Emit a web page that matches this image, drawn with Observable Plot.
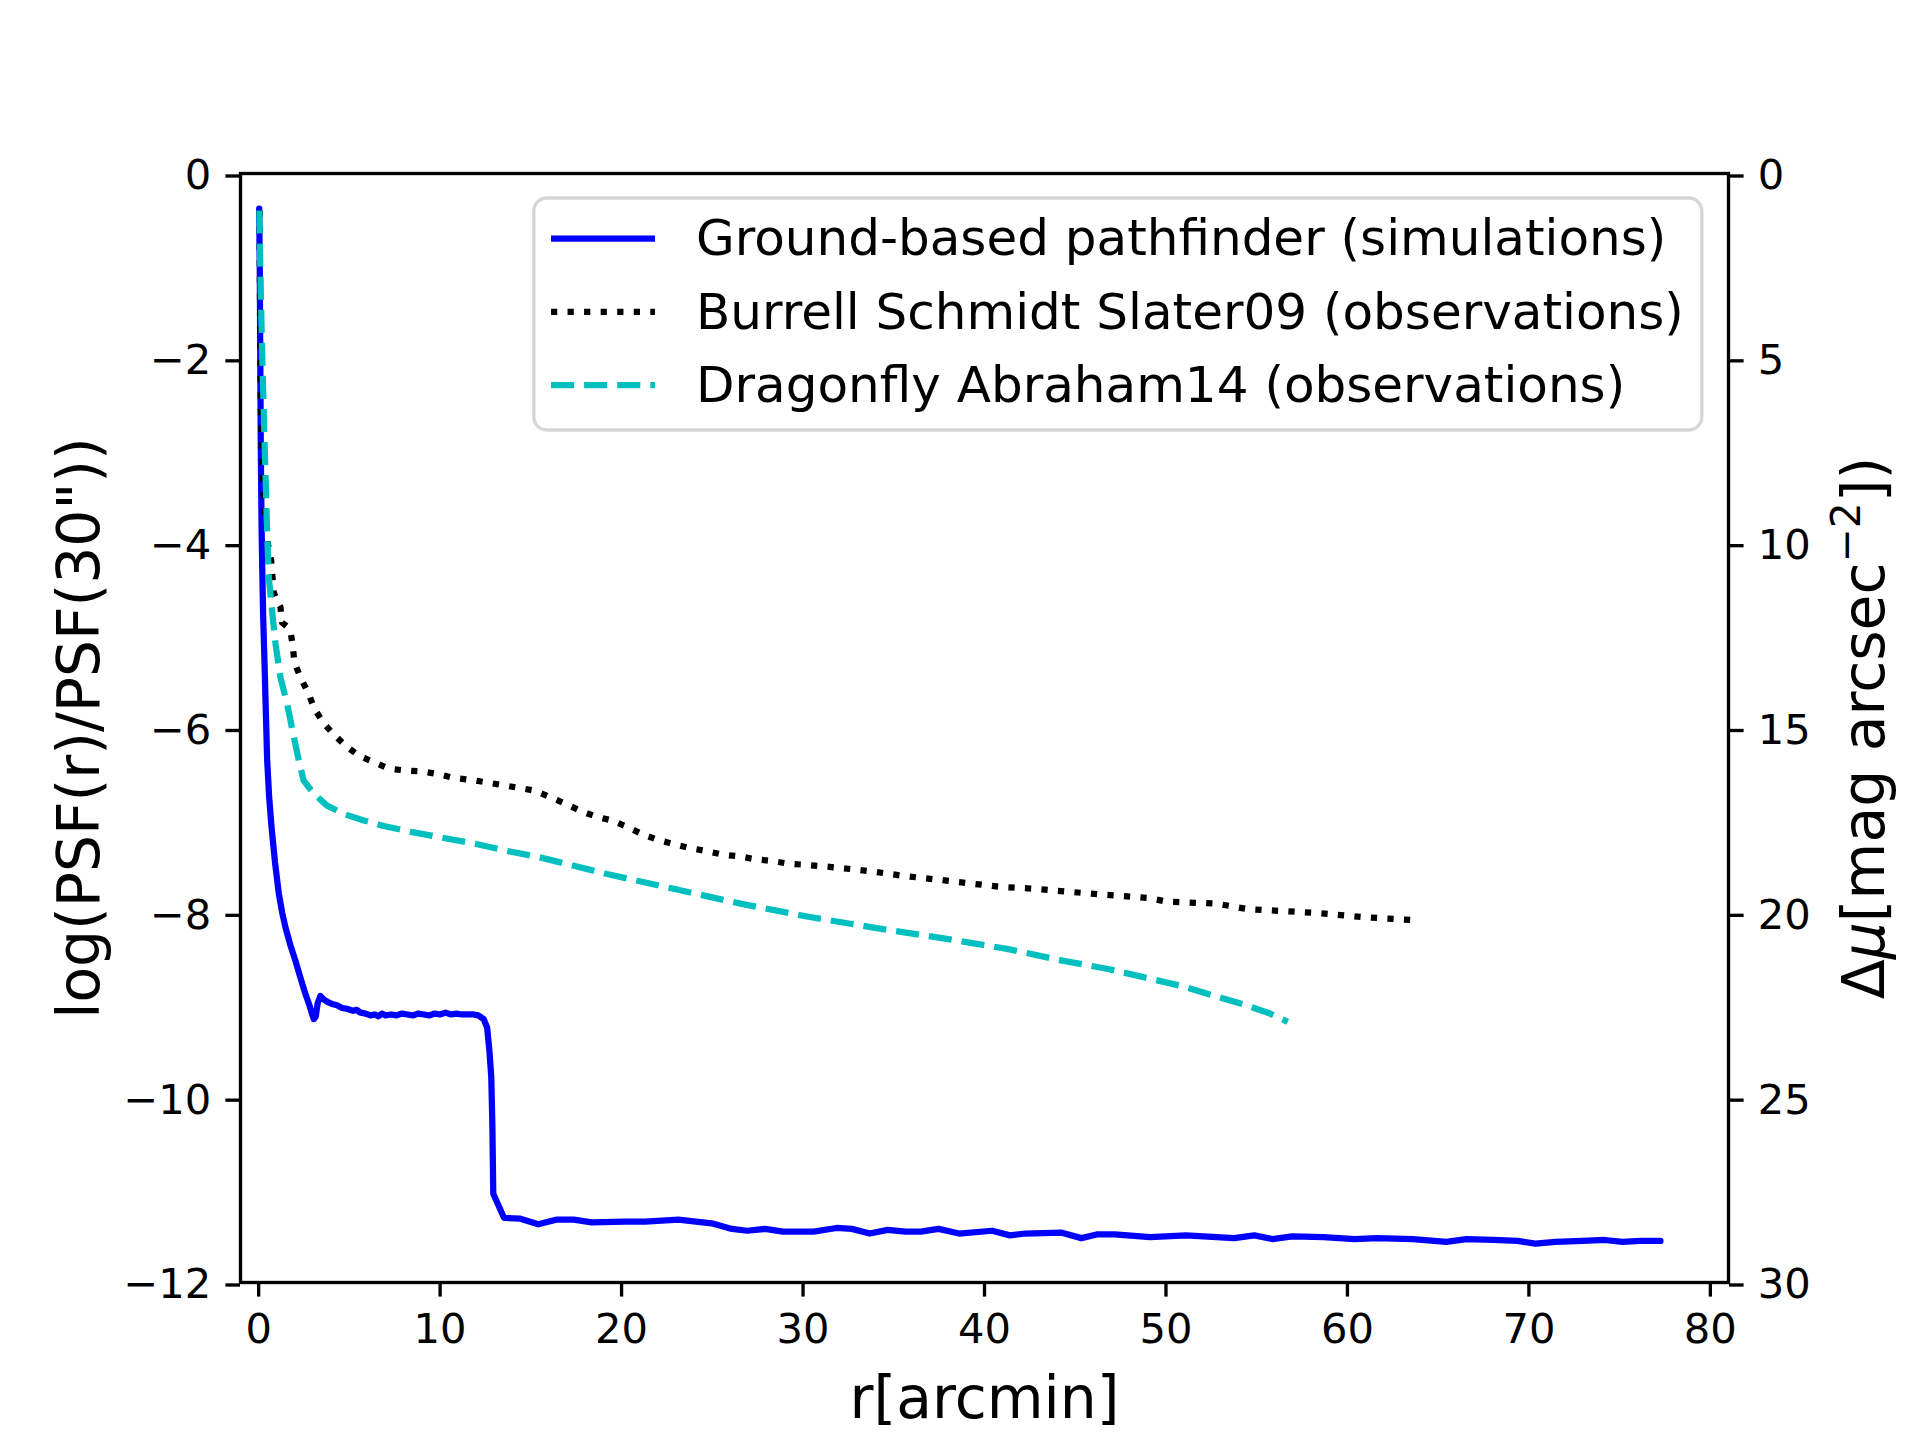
<!DOCTYPE html>
<html>
<head>
<meta charset="utf-8">
<script src="https://cdn.jsdelivr.net/npm/d3@7"></script>
<script src="https://cdn.jsdelivr.net/npm/@observablehq/plot@0.6"></script>
<style>
  html, body { margin: 0; padding: 0; background: #ffffff; }
  #chart { width: 1920px; height: 1440px; }
</style>
</head>
<body>
<div id="chart"></div>
<script>
// Radial PSF profiles: r in arcmin, value = log(PSF(r)/PSF(30"))

// Ground-based pathfinder (simulations)
const pathfinderR = [
  0.03, 0.06, 0.09, 0.12, 0.16, 0.19, 0.25, 0.32, 0.4, 0.47, 0.58, 0.71, 0.9, 1.11, 1.3, 1.48,
  1.75, 2.03, 2.3, 2.58, 2.8, 2.95, 3.04, 3.15, 3.25, 3.4, 3.6, 3.85, 4.1, 4.32, 4.6, 4.9,
  5.2, 5.4, 5.61, 5.9, 6.16, 6.4, 6.6, 6.8, 7.0, 7.3, 7.6, 7.9, 8.2, 8.5, 8.8, 9.1,
  9.4, 9.7, 10.0, 10.3, 10.6, 10.9, 11.2, 11.5, 11.85, 12.1, 12.4, 12.59, 12.72, 12.82, 12.88, 12.93,
  13.52, 14.42, 15.41, 16.39, 17.37, 18.35, 20.18, 21.3, 23.13, 24.96, 26.08, 26.93, 27.91, 28.9, 30.58, 31.85,
  32.69, 33.67, 34.66, 35.64, 36.48, 37.47, 38.6, 40.42, 41.4, 42.25, 44.21, 45.34, 46.18, 47.17, 49.14, 51.1,
  53.76, 54.87, 55.85, 56.96, 58.68, 60.4, 61.63, 63.6, 65.45, 66.55, 68.03, 69.38, 70.36, 71.47, 72.94, 74.18,
  75.16, 76.14, 77.25
];
const pathfinderLog = [
  -0.38, -1.0, -2.0, -3.0, -3.8, -4.19, -4.8, -5.27, -5.85, -6.35, -6.75, -7.07, -7.45, -7.79, -8.0, -8.16,
  -8.35, -8.52, -8.7, -8.88, -9.0, -9.1, -9.15, -9.12, -8.98, -8.9, -8.94, -8.97, -8.99, -9.0, -9.03, -9.04,
  -9.06, -9.05, -9.08, -9.09, -9.11, -9.1, -9.12, -9.09, -9.11, -9.1, -9.11, -9.09, -9.1, -9.11, -9.09, -9.1,
  -9.11, -9.09, -9.1, -9.08, -9.1, -9.09, -9.1, -9.1, -9.1, -9.11, -9.15, -9.24, -9.5, -9.78, -10.3, -11.04,
  -11.30, -11.31, -11.37, -11.32, -11.32, -11.35, -11.34, -11.34, -11.32, -11.36, -11.42, -11.44, -11.42, -11.45, -11.45, -11.41,
  -11.42, -11.47, -11.43, -11.45, -11.45, -11.42, -11.47, -11.44, -11.49, -11.47, -11.46, -11.52, -11.48, -11.48, -11.51, -11.49,
  -11.52, -11.49, -11.53, -11.50, -11.51, -11.53, -11.52, -11.53, -11.56, -11.53, -11.54, -11.55, -11.58, -11.56, -11.55, -11.54,
  -11.56, -11.55, -11.55
];

// Burrell Schmidt Slater09 (observations)
const burrellR = [
  0.05, 0.08, 0.12, 0.17, 0.3, 0.5, 0.69, 0.83, 1.0, 1.2, 1.29, 1.55, 1.75, 1.88, 1.97, 2.3,
  2.76, 3.04, 3.55, 4.14, 4.78, 5.52, 6.34, 7.17, 8.09, 9.0, 9.92, 10.75, 11.67, 12.59, 13.5, 14.42,
  15.25, 16.09, 16.93, 17.77, 18.62, 19.46, 20.3, 21.15, 21.99, 22.94, 23.78, 24.63, 25.58, 26.52, 27.37, 28.31,
  29.27, 30.13, 31.87, 33.71, 35.54, 37.38, 39.12, 40.96, 42.8, 44.5, 46.38, 49.08, 50.07, 52.77, 53.64, 54.5,
  58.19, 61.14, 63.72
];
const burrellLog = [
  -0.4, -1.5, -2.5, -3.0, -3.6, -4.0, -4.19, -4.53, -4.62, -4.69, -4.86, -4.9, -4.95, -5.11, -5.29, -5.45,
  -5.63, -5.78, -5.94, -6.07, -6.19, -6.30, -6.37, -6.44, -6.46, -6.47, -6.50, -6.54, -6.56, -6.59, -6.62, -6.65,
  -6.68, -6.75, -6.82, -6.90, -6.96, -7.00, -7.07, -7.15, -7.21, -7.26, -7.30, -7.33, -7.37, -7.39, -7.42, -7.44,
  -7.47, -7.48, -7.51, -7.55, -7.60, -7.64, -7.68, -7.72, -7.74, -7.77, -7.80, -7.84, -7.88, -7.90, -7.93, -7.96,
  -8.00, -8.05, -8.08
];

// Dragonfly Abraham14 (observations)
const dragonflyR = [
  0.04, 0.08, 0.19, 0.34, 0.47, 0.56, 0.74, 0.93, 1.2, 1.57, 1.9, 2.21, 2.48, 3.04, 3.77, 4.69,
  5.79, 6.89, 8.55, 10.2, 11.85, 13.69, 15.5, 19.2, 22.87, 26.55, 30.22, 33.89, 37.56, 41.24, 44.36, 46.87,
  48.84, 50.81, 52.53, 54.25, 55.73, 56.71
];
const dragonflyLog = [
  -0.4, -0.92, -1.92, -3.0, -3.9, -4.37, -4.73, -5.09, -5.45, -5.74, -6.06, -6.35, -6.57, -6.71, -6.84, -6.93,
  -7.00, -7.06, -7.13, -7.19, -7.25, -7.33, -7.40, -7.58, -7.74, -7.90, -8.04, -8.16, -8.27, -8.39, -8.52, -8.61,
  -8.70, -8.79, -8.89, -8.99, -9.09, -9.18
];

// Axis ticks
const xTicks = [0, 10, 20, 30, 40, 50, 60, 70, 80];
const yTicks = [0, -2, -4, -6, -8, -10, -12];
const muTicks = [0, 5, 10, 15, 20, 25, 30]; // Δμ = -2.5 · log ratio

const xLabel = "r[arcmin]";
const yLabel = "log(PSF(r)/PSF(30\"))";
const muLabel = "Δμ[mag arcsec−2])";

const series = [
  {name: "Ground-based pathfinder (simulations)", r: pathfinderR, v: pathfinderLog,
   color: "#0000ff", dash: null, cap: "round"},
  {name: "Burrell Schmidt Slater09 (observations)", r: burrellR, v: burrellLog,
   color: "#000000", dash: "6.25,10.3", cap: "butt"},
  {name: "Dragonfly Abraham14 (observations)", r: dragonflyR, v: dragonflyLog,
   color: "#00bfbf", dash: "23.1,10", cap: "butt"}
];

const font = "'DejaVu Sans', sans-serif";
const lw = 6.25;
const minus = d => (d < 0 ? "\u2212" : "") + Math.abs(d);

const lineMarks = series.map(s =>
  Plot.line(s.r.map((r, i) => ({r, v: s.v[i]})), {
    x: "r", y: "v",
    stroke: s.color,
    strokeWidth: lw,
    strokeDasharray: s.dash ?? undefined,
    strokeLinecap: s.cap,
    strokeLinejoin: "round",
    curve: "linear"
  })
);

const axisStyle = {tickSize: 14.6, fontSize: 41.67, strokeWidth: 3.33, stroke: "#000", fill: "#000", label: null};
const labelStyle = {text: d => d, lineAnchor: "bottom", textAnchor: "middle",
  fontSize: 58.33, fontFamily: font, fill: "#000"};

const chart = Plot.plot({
  width: 1920,
  height: 1440,
  marginLeft: 240,
  marginRight: 192,
  marginTop: 173,
  marginBottom: 158,
  style: {fontFamily: font, background: "#ffffff", color: "#000000"},
  x: {domain: [-1, 81], label: null},
  y: {domain: [-12, 0], label: null},
  marks: [
    ...lineMarks,
    Plot.frame({stroke: "#000", strokeWidth: 3.33}),
    Plot.axisX({...axisStyle, ticks: xTicks, tickPadding: 16.8, tickFormat: minus}),
    Plot.axisY({...axisStyle, anchor: "left", ticks: yTicks, tickPadding: 14.6, dy: 2.5, tickFormat: minus}),
    Plot.axisY({...axisStyle, anchor: "right", ticks: muTicks.map(m => -m / 2.5), tickPadding: 14.6, dy: 2.5,
      tickFormat: d => String(Math.round(-d * 2.5))}),
    Plot.text([xLabel], {...labelStyle, frameAnchor: "bottom", dy: 135}),
    Plot.text([yLabel], {...labelStyle, frameAnchor: "left", dx: -142, rotate: -90}),
    Plot.text([muLabel], {...labelStyle, frameAnchor: "right", dx: 155, rotate: -90})
  ]
});

document.getElementById("chart").appendChild(chart);

const svg = d3.select(chart);

// Right-hand label: italic μ and a superscript exponent
svg.selectAll("text").filter(function() { return this.textContent === muLabel; }).each(function() {
  const t = d3.select(this);
  t.text(null);
  t.append("tspan").text("Δ");
  t.append("tspan").attr("font-style", "italic").text("μ");
  t.append("tspan").text("[mag arcsec");
  t.append("tspan").attr("font-size", "40.8").attr("dy", "-24").text("−2");
  t.append("tspan").attr("dy", "24").text("])");
});

// Legend box in the upper right of the axes
const legend = svg.append("g").attr("font-family", font).attr("text-anchor", "start");
legend.append("rect")
  .attr("x", 533.8).attr("y", 198).attr("width", 1168).attr("height", 232)
  .attr("rx", 13).attr("ry", 13)
  .attr("fill", "#ffffff").attr("fill-opacity", 0.8)
  .attr("stroke", "#d6d6d6").attr("stroke-width", 3.33);
series.forEach((s, i) => {
  const cy = 238.5 + i * 73.3;
  legend.append("line")
    .attr("x1", 551).attr("x2", 655).attr("y1", cy).attr("y2", cy)
    .attr("stroke", s.color).attr("stroke-width", lw)
    .attr("stroke-dasharray", s.dash)
    .attr("stroke-linecap", s.cap === "round" ? "butt" : s.cap);
  legend.append("text")
    .attr("x", 696).attr("y", cy + 16.7)
    .attr("text-anchor", "start")
    .attr("font-size", 50).attr("fill", "#000")
    .text(s.name);
});
</script>
</body>
</html>
